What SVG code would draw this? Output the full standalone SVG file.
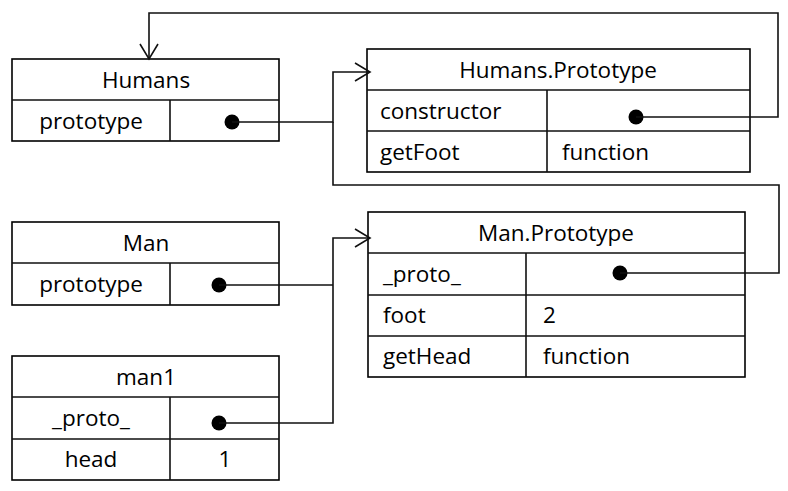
<svg xmlns="http://www.w3.org/2000/svg" width="788" height="491" viewBox="0 0 788 491">
<defs>
<style>
.box{fill:#fff;stroke:#000;stroke-width:1.6}
.ln{fill:none;stroke:#111;stroke-width:1.6}
.t{font-family:"Open Sans","Noto Sans",sans-serif;font-size:22.5px;fill:#000}
.c{text-anchor:middle}
.dot{fill:#000}
</style>
<marker id="arr" viewBox="0 0 20 20" refX="16" refY="10" markerWidth="20" markerHeight="20" markerUnits="userSpaceOnUse" orient="auto">
<path d="M1,1 L16,10 L1,19" fill="none" stroke="#111" stroke-width="1.6"/>
</marker>
</defs>
<rect width="788" height="491" fill="#fff"/>
<g id="Humans">
<rect class="box" x="12" y="59" width="267" height="82"/>
<path class="ln" d="M12,100 H279 M170,100 V141"/>
<text class="t c" x="146" y="88">Humans</text>
<text class="t c" x="91" y="129">prototype</text>
<circle class="dot" cx="232" cy="122" r="7.5"/>
</g>
<g id="HumansPrototype">
<rect class="box" x="367" y="49" width="383" height="123"/>
<path class="ln" d="M367,90 H750 M367,131 H750 M547,90 V172"/>
<text class="t c" x="558" y="78">Humans.Prototype</text>
<text class="t" x="380" y="119">constructor</text>
<text class="t" x="380" y="160">getFoot</text>
<text class="t" x="562" y="160">function</text>
<circle class="dot" cx="636" cy="117" r="7.5"/>
</g>
<g id="Man">
<rect class="box" x="12" y="222" width="267" height="83"/>
<path class="ln" d="M12,263 H279 M170,263 V305"/>
<text class="t c" x="146" y="251">Man</text>
<text class="t c" x="91" y="292">prototype</text>
<circle class="dot" cx="219" cy="285" r="7.5"/>
</g>
<g id="ManPrototype">
<rect class="box" x="368" y="212" width="377" height="165"/>
<path class="ln" d="M368,253 H745 M368,295 H745 M368,336 H745 M526,253 V377"/>
<text class="t c" x="556" y="241">Man.Prototype</text>
<text class="t" x="383" y="282">_proto_</text>
<text class="t" x="383" y="323">foot</text>
<text class="t" x="543" y="323">2</text>
<text class="t" x="383" y="364">getHead</text>
<text class="t" x="543" y="364">function</text>
<circle class="dot" cx="620" cy="273" r="7.5"/>
</g>
<g id="man1">
<rect class="box" x="12" y="356" width="267" height="124"/>
<path class="ln" d="M12,397 H279 M12,439 H279 M170,397 V480"/>
<text class="t c" x="146" y="385">man1</text>
<text class="t c" x="91" y="426">_proto_</text>
<text class="t c" x="91" y="467">head</text>
<text class="t c" x="225" y="467">1</text>
<circle class="dot" cx="219" cy="423" r="7.5"/>
</g>
<g id="connectors">
<path class="ln" d="M232,122 H333 V72 H370" marker-end="url(#arr)"/>
<path class="ln" d="M620,273 H779 V185 H333 V122"/>
<path class="ln" d="M636,117 H778 V13 H149 V59" marker-end="url(#arr)"/>
<path class="ln" d="M219,285 H333"/>
<path class="ln" d="M219,423 H333 V238 H370" marker-end="url(#arr)"/>
</g>
</svg>
